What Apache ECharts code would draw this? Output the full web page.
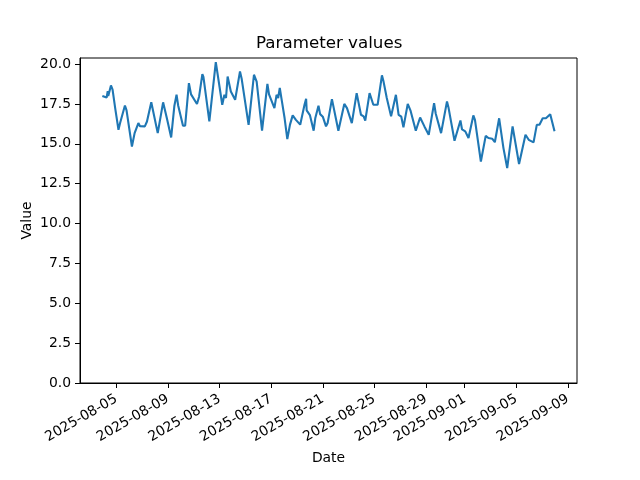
<!DOCTYPE html>
<html><head><meta charset="utf-8">
<script src="https://cdn.jsdelivr.net/npm/echarts@6/dist/echarts.min.js"></script>
<style>html,body{margin:0;padding:0;background:#fff}#c{width:640px;height:480px}</style>
</head><body><div id="c"></div>
<script>
const times = [
'2025-08-03 22:00','2025-08-04 00:00','2025-08-04 06:00','2025-08-04 08:00','2025-08-04 09:00','2025-08-04 14:00','2025-08-04 17:00','2025-08-04 22:00',
'2025-08-05 04:00','2025-08-05 07:00','2025-08-05 10:00','2025-08-05 16:00','2025-08-05 19:00',
'2025-08-06 05:00','2025-08-06 10:00','2025-08-06 17:00','2025-08-06 20:00',
'2025-08-07 05:00','2025-08-07 09:00','2025-08-07 17:00',
'2025-08-08 05:00','2025-08-08 15:00','2025-08-08 22:00',
'2025-08-09 06:00','2025-08-09 12:00','2025-08-09 16:00','2025-08-09 19:00',
'2025-08-10 04:00','2025-08-10 08:00','2025-08-10 15:00','2025-08-10 19:00',
'2025-08-11 06:00','2025-08-11 10:00','2025-08-11 16:00','2025-08-11 18:00',
'2025-08-12 05:00','2025-08-12 17:00',
'2025-08-13 05:00','2025-08-13 09:00','2025-08-13 12:00','2025-08-13 15:00','2025-08-13 18:00','2025-08-13 21:00',
'2025-08-14 05:00','2025-08-14 14:00','2025-08-14 17:00',
'2025-08-15 06:00','2025-08-15 16:00','2025-08-15 21:00',
'2025-08-16 07:00','2025-08-16 17:00','2025-08-16 20:00',
'2025-08-17 06:00','2025-08-17 10:00','2025-08-17 13:00','2025-08-17 16:00','2025-08-17 20:00',
'2025-08-18 01:00','2025-08-18 06:00','2025-08-18 11:00','2025-08-18 16:00','2025-08-18 22:00',
'2025-08-19 06:00','2025-08-19 14:00','2025-08-19 17:00','2025-08-19 18:00',
'2025-08-20 00:00','2025-08-20 07:00','2025-08-20 10:00','2025-08-20 16:00','2025-08-20 19:00',
'2025-08-21 00:00','2025-08-21 06:00','2025-08-21 09:00','2025-08-21 17:00',
'2025-08-22 05:00','2025-08-22 16:00','2025-08-22 21:00',
'2025-08-23 06:00','2025-08-23 15:00','2025-08-23 18:00','2025-08-23 23:00',
'2025-08-24 04:00','2025-08-24 07:00','2025-08-24 15:00','2025-08-24 22:00',
'2025-08-25 06:00','2025-08-25 14:00','2025-08-25 17:00','2025-08-25 23:00',
'2025-08-26 07:00','2025-08-26 16:00','2025-08-26 21:00',
'2025-08-27 02:00','2025-08-27 06:00','2025-08-27 14:00','2025-08-27 19:00',
'2025-08-28 05:00','2025-08-28 13:00','2025-08-28 16:00','2025-08-28 21:00',
'2025-08-29 05:00','2025-08-29 15:00','2025-08-29 18:00',
'2025-08-30 04:00','2025-08-30 15:00','2025-08-30 18:00',
'2025-08-31 05:00','2025-08-31 16:00','2025-08-31 19:00',
'2025-09-01 01:00','2025-09-01 07:00','2025-09-01 16:00','2025-09-01 19:00',
'2025-09-02 06:00','2025-09-02 15:00','2025-09-02 20:00',
'2025-09-03 03:00','2025-09-03 08:00','2025-09-03 16:00',
'2025-09-04 00:00','2025-09-04 07:00','2025-09-04 17:00',
'2025-09-05 05:00','2025-09-05 17:00','2025-09-05 23:00',
'2025-09-06 08:00','2025-09-06 14:00','2025-09-06 19:00',
'2025-09-07 01:00','2025-09-07 07:00','2025-09-07 15:00','2025-09-07 18:00','2025-09-07 23:00'
];
const values = [
18.0,17.9,17.9,18.3,18.0,18.66,18.4,17.2,
15.88,16.3,16.2,17.4,17.1,
14.83,15.67,16.3,16.1,
16.09,16.4,17.6,
15.67,17.6,16.6,
15.4,17.39,18.08,17.4,
16.13,16.13,18.8,18.1,
17.5,17.97,19.37,19.2,
16.4,20.12,
17.45,18.07,17.87,19.22,19.33,18.28,
17.76,19.54,19.1,
16.19,19.33,18.9,
15.82,18.75,18.1,
17.24,18.07,17.87,18.5,17.66,
16.6,15.3,16.2,16.78,16.5,
16.2,17.45,17.82,17.1,
16.8,15.82,16.6,17.39,16.86,
16.7,16.09,16.3,17.8,
15.82,17.5,17.24,
16.3,18.18,18.07,16.82,
16.72,16.45,18.18,17.45,
17.45,19.29,18.9,17.87,
16.72,18.07,16.82,
16.7,16.03,17.5,17.1,
15.82,16.65,16.65,16.09,
15.57,17.55,16.9,
15.67,17.66,17.24,
15.19,16.46,15.9,
15.78,15.36,16.78,16.5,
13.89,15.5,15.36,
15.32,15.1,16.6,
14.73,13.48,16.09,
13.73,15.57,15.25,
15.09,16.19,16.19,
16.6,16.6,16.86,16.86,15.78
];
const xTickDates = ['2025-08-05','2025-08-09','2025-08-13','2025-08-17','2025-08-21','2025-08-25','2025-08-29','2025-09-01','2025-09-05','2025-09-09'];
const xRange = ['2025-08-02 04:26','2025-09-09 16:48'];
const yTicks = [0,2.5,5,7.5,10,12.5,15,17.5,20];
const yRange = [0, 20.38];

function toUTC(s){
  const parts = s.split(' ');
  const d = parts[0].split('-').map(Number);
  let h = 0, m = 0;
  if (parts[1]) { const t = parts[1].split(':').map(Number); h = t[0]; m = t[1] || 0; }
  return Date.UTC(d[0], d[1]-1, d[2], h, m);
}
function pad(n){ return (n<10?'0':'') + n; }
function fmtDate(v){ const d = new Date(v); return d.getUTCFullYear()+'-'+pad(d.getUTCMonth()+1)+'-'+pad(d.getUTCDate()); }

const FONT = 'DejaVu Sans';
const chart = echarts.init(document.getElementById('c'), null, {renderer:'canvas'});
chart.setOption({
  animation: false,
  backgroundColor: '#fff',
  title: {
    text: 'Parameter values', left: 256, top: 35, padding: 0,
    textStyle: {fontFamily: FONT, fontSize: 16.7, fontWeight: 'normal', color: '#000'}
  },
  grid: {left: 80, top: 58, width: 497, height: 325, show: true, borderColor: '#000', borderWidth: 1, backgroundColor: 'transparent'},
  xAxis: {
    type: 'value',
    min: toUTC(xRange[0]), max: toUTC(xRange[1]),
    name: 'Date', nameLocation: 'middle', nameGap: 68,
    nameTextStyle: {fontFamily: FONT, fontSize: 13.9, color: '#000'},
    axisLine: {show: true, lineStyle: {color: '#000', width: 1}},
    axisTick: {show: true, length: 5, lineStyle: {color: '#000'}, customValues: xTickDates.map(toUTC)},
    axisLabel: {
      rotate: 30, margin: 15, fontFamily: FONT, fontSize: 13.9, color: '#000',
      customValues: xTickDates.map(toUTC),
      formatter: v => fmtDate(v)
    },
    splitLine: {show: false}
  },
  yAxis: {
    type: 'value', min: yRange[0], max: yRange[1],
    name: 'Value', nameLocation: 'middle', nameGap: 46, nameMoveOverlap: false,
    nameTextStyle: {fontFamily: FONT, fontSize: 13.9, color: '#000'},
    axisLine: {show: true, lineStyle: {color: '#000', width: 1}},
    axisTick: {show: true, length: 5, lineStyle: {color: '#000'}, customValues: yTicks},
    axisLabel: {
      margin: 9, fontFamily: FONT, fontSize: 13.9, color: '#000',
      customValues: yTicks,
      formatter: v => v.toFixed(1)
    },
    splitLine: {show: false}
  },
  series: [{
    type: 'line',
    data: times.map((t, i) => [toUTC(t), values[i]]),
    showSymbol: false, symbol: 'none',
    lineStyle: {color: '#1f77b4', width: 2.1},
    itemStyle: {color: '#1f77b4'}
  }]
});
</script>
</body></html>
